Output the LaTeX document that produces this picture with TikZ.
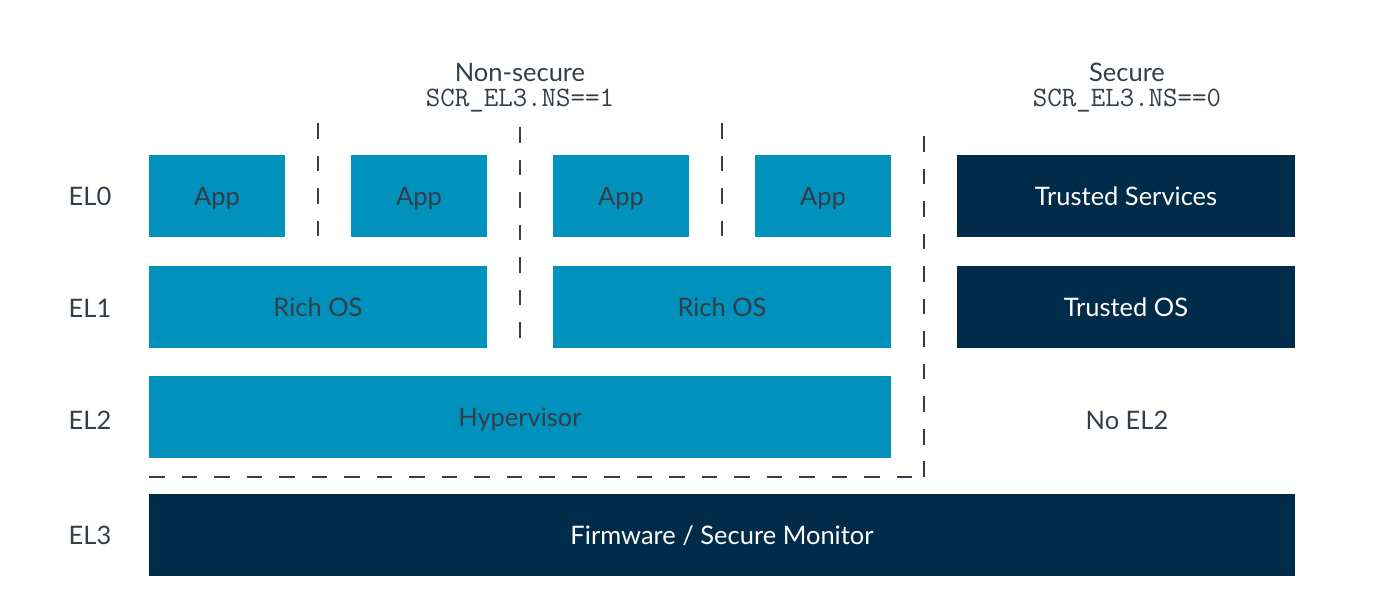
\documentclass[tikz,border=0pt]{standalone}
\usepackage{fontspec}
\setmainfont{Lato}
\definecolor{nsblue}{HTML}{0091BD}
\definecolor{secnavy}{HTML}{002B49}
\definecolor{labgray}{HTML}{333E48}
\tikzset{
  nsbox/.style={fill=nsblue, text=labgray, minimum height=1.66cm, inner sep=0pt, text height=1.05em, text depth=0pt, font=\fontsize{14.5}{17}\selectfont},
  secbox/.style={fill=secnavy, text=white, minimum height=1.66cm, inner sep=0pt, text height=1.05em, text depth=0pt, font=\fontsize{14.5}{17}\selectfont},
  lvl/.style={text=labgray, font=\fontsize{14.5}{17}\selectfont},
  nsbit/.style={text=labgray, font=\ttfamily\fontsize{16}{18}\selectfont},
  split/.style={labgray, line width=0.9pt, dash pattern=on 9pt off 9.5pt}
}
\begin{document}
\begin{tikzpicture}[x=0.02cm, y=-0.02cm] % exception levels
        \useasboundingbox (0,0) rectangle (1379,612);
        \node[lvl] (ns) at (520,72) {Non-secure};
        \node[nsbit] (nsflag) at (520,101) {SCR\_EL3.NS==1};
        \node[lvl] (sec) at (1127,72) {Secure};
        \node[nsbit] (secflag) at (1127,101) {SCR\_EL3.NS==0};
        \node[lvl] (el0) at (90,196) {EL0};
        \node[lvl] (el1) at (90,308) {EL1};
        \node[lvl] (el2) at (90,420) {EL2};
        \node[lvl] (el3) at (90,535) {EL3};
        \node[nsbox, minimum width=2.72cm] (app1) at (217,196) {App};
        \node[nsbox, minimum width=2.72cm] (app2) at (419,196) {App};
        \node[nsbox, minimum width=2.72cm] (app3) at (621,196) {App};
        \node[nsbox, minimum width=2.72cm] (app4) at (823,196) {App};
        \node[secbox, minimum width=6.76cm] (tsvc) at (1126,196) {Trusted Services};
        \node[nsbox, minimum width=6.76cm] (ros1) at (318,307) {Rich OS};
        \node[nsbox, minimum width=6.76cm] (ros2) at (722,307) {Rich OS};
        \node[secbox, minimum width=6.76cm] (tos) at (1126,307) {Trusted OS};
        \node[nsbox, minimum width=14.84cm] (hyp) at (520,417) {Hypervisor};
        \node[lvl] (noel2) at (1127,420) {No EL2};
        \node[secbox, minimum width=22.92cm] (fw) at (722,535) {Firmware / Secure Monitor};
        \draw[split] (318,123) -- (318,240);
        \draw[split] (520,127) -- (520,350);
        \draw[split] (722,123) -- (722,240);
        \draw[split] (924,477) -- (924,122);
        \draw[split] (149,477) -- (924,477);
      \end{tikzpicture}
\end{document}
